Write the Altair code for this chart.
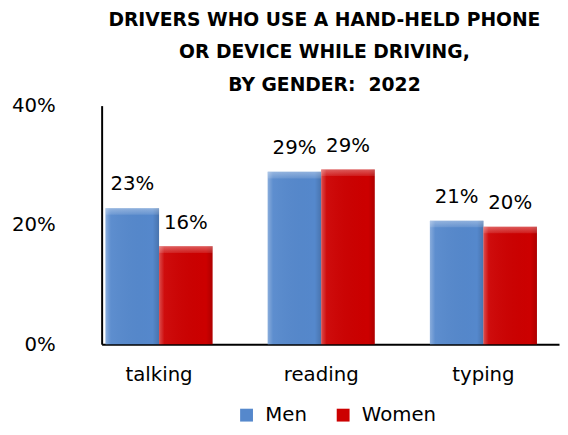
import altair as alt
import pandas as pd

categories = ["talking", "reading", "typing"]
genders = ["Men", "Women"]
men = [0.228, 0.289, 0.207]
women = [0.164, 0.293, 0.197]
title_lines = ["DRIVERS WHO USE A HAND-HELD PHONE", "OR DEVICE WHILE DRIVING,", "BY GENDER:\u00a0 2022"]
colors = ["#5588CC", "#CC0000"]

rows = []
for c, m, w in zip(categories, men, women):
    rows.append({"activity": c, "gender": "Men", "share": m})
    rows.append({"activity": c, "gender": "Women", "share": w})
df = pd.DataFrame(rows)

FONT = "DejaVu Sans"
W, H = 464, 242

x = alt.X(
    "activity:N", sort=categories, title=None,
    scale=alt.Scale(paddingInner=0.34, paddingOuter=0.08, align=0.15),
    axis=alt.Axis(labelAngle=0, labelFontSize=20, labelFont=FONT, labelColor="black",
                  ticks=False, domainColor="black", domainWidth=2, labelPadding=21),
)
xo = alt.XOffset("gender:N", sort=genders, scale=alt.Scale(paddingInner=0, paddingOuter=0))
y = alt.Y(
    "share:Q", stack=None, title=None,
    scale=alt.Scale(domain=[0, 0.4], nice=False),
    axis=alt.Axis(values=[0, 0.2, 0.4], format=".0%", grid=False, ticks=False,
                  labelPadding=47, labelFontSize=20, labelFont=FONT, labelColor="black",
                  domainColor="black", domainWidth=2),
)

bars = alt.Chart(df).mark_bar().encode(
    x=x, xOffset=xo, y=y,
    color=alt.Color(
        "gender:N", sort=genders,
        scale=alt.Scale(domain=genders, range=colors),
        legend=alt.Legend(orient="none", legendX=137, legendY=304, direction="horizontal",
                          title=None, symbolType="square", symbolSize=170,
                          symbolStrokeWidth=0, labelFontSize=20, labelFont=FONT,
                          labelColor="black", columnPadding=26, labelOffset=9),
    ),
)

hshine = alt.Chart(df).mark_bar(
    fill={
        "gradient": "linear", "x1": 0, "x2": 1, "y1": 0, "y2": 0,
        "stops": [
            {"offset": 0, "color": "rgba(255,255,255,0.30)"},
            {"offset": 0.1, "color": "rgba(255,255,255,0.05)"},
            {"offset": 0.88, "color": "rgba(0,0,0,0.0)"},
            {"offset": 1, "color": "rgba(0,0,0,0.15)"},
        ],
    }
).encode(x=x, xOffset=xo, y=y)

top_bevel = alt.Chart(df).transform_calculate(
    bevel="datum.share - 0.011"
).mark_bar(
    fill={
        "gradient": "linear", "x1": 0, "x2": 0, "y1": 0, "y2": 1,
        "stops": [
            {"offset": 0, "color": "rgba(255,255,255,0.35)"},
            {"offset": 1, "color": "rgba(255,255,255,0.10)"},
        ],
    }
).encode(x=x, xOffset=xo, y=y, y2="bevel:Q")

labels = alt.Chart(df).mark_text(
    dy=-18, baseline="alphabetic", fontSize=20, font=FONT, color="black"
).encode(x=x, xOffset=xo, y=y, text=alt.Text("share:Q", format=".0%"))

chart = (
    alt.layer(bars, hshine, top_bevel, labels)
    .properties(
        width=W, height=H,
        title=alt.TitleParams(text=title_lines, fontSize=19, font=FONT, fontWeight="bold",
                              anchor="middle", dx=-6, lineHeight=33, offset=1, color="black"),
        autosize=alt.AutoSizeParams(type="none"),
        padding={"left": 95, "top": 96, "right": 1, "bottom": 81},
    )
    .configure_view(stroke=None)
)

chart.save("out.html", embed_options={"renderer": "svg", "actions": False})
